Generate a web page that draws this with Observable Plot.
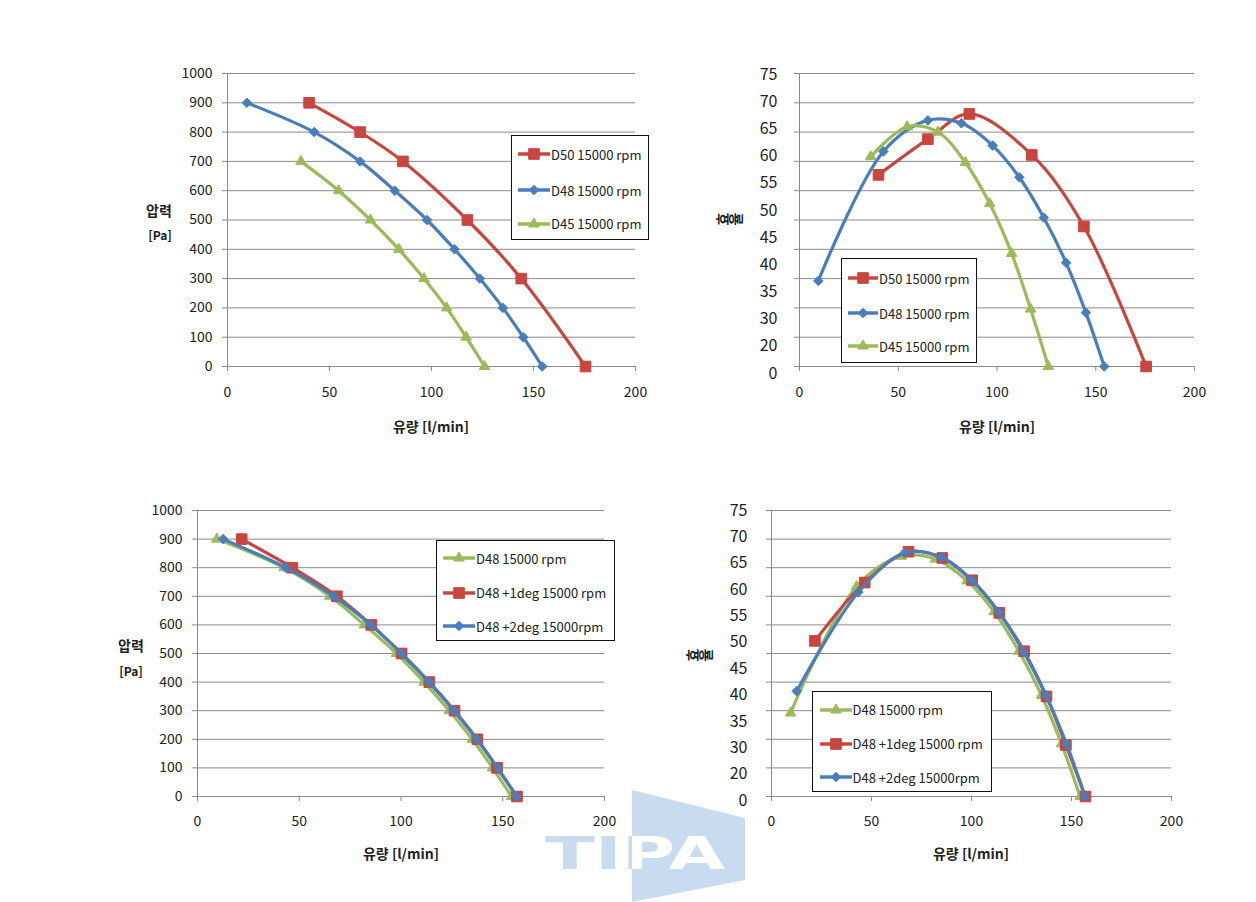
<!DOCTYPE html>
<html><head><meta charset="utf-8">
<script src="https://cdn.jsdelivr.net/npm/d3@7"></script>
<script src="https://cdn.jsdelivr.net/npm/@observablehq/plot@0.6"></script>
<style>
body{margin:0;background:#fff;}
#root{position:relative;width:1256px;height:902px;overflow:hidden;font-family:"Noto Sans CJK KR","Noto Sans",sans-serif;color:#222;}
.abs{position:absolute;left:0;top:0;}
.legend{position:absolute;border:1.5px solid #111;background:#fff;box-sizing:border-box;}
.item{position:absolute;display:flex;align-items:center;font-size:13px;white-space:nowrap;line-height:1;transform:translateY(-50%);}
.item svg{display:block;margin-right:1px;}
.title{position:absolute;font-weight:bold;white-space:nowrap;transform:translate(-50%,-50%);line-height:1;}
.vtitle{position:absolute;font-weight:bold;font-size:14px;line-height:1;white-space:nowrap;transform:translate(-50%,-50%);display:flex;}
.vtitle span{display:inline-block;transform:rotate(-90deg);}
</style>
</head><body><div id="root"></div>
<script>
// ---------- data ----------
const xTicks = [0, 50, 100, 150, 200];
const pressTicks = [0, 100, 200, 300, 400, 500, 600, 700, 800, 900, 1000];
const effGridTicks = [0, 30, 35, 40, 45, 50, 55, 60, 65, 70, 75];
const effLabelTicks = [0, 20, 30, 35, 40, 45, 50, 55, 60, 65, 70, 75];

const nameD50 = "D50 15000 rpm", nameD48 = "D48 15000 rpm", nameD45 = "D45 15000 rpm";
const nameP1 = "D48 +1deg 15000 rpm", nameP2 = "D48 +2deg 15000rpm";

const flowD50 = [40, 65, 86, 117.6, 144, 175.5];
const pressD50 = [900, 800, 700, 500, 300, 0];
const effD50 = [57.7, 63.8, 68.1, 61.1, 48.9, 0];

const flowD48 = [9.5, 42.5, 65, 82, 97.8, 111.3, 123.7, 135, 145, 154.3];
const pressD48 = [900, 800, 700, 600, 500, 400, 300, 200, 100, 0];
const effD48 = [39.6, 61.7, 67.0, 66.5, 62.7, 57.3, 50.4, 42.7, 34.2, 0];

const flowD45 = [36, 54.5, 70.1, 84, 96.3, 107.4, 117, 126];
const pressD45 = [700, 600, 500, 400, 300, 200, 100, 0];
const effD45 = [60.8, 65.9, 65.0, 59.8, 52.8, 44.3, 34.8, 0];

const flowP1 = [21.7, 46.6, 68.5, 85.4, 100.3, 113.9, 126.3, 137.5, 147.2, 157.0];
const pressP1 = [900, 800, 700, 600, 500, 400, 300, 200, 100, 0];
const effP1 = [52.2, 62.4, 67.8, 66.7, 62.8, 57.1, 50.4, 42.5, 34.0, 0];

const flowP2 = [12.6, 43.4, 66.9, 85.1, 100.1, 113.7, 126.0, 137.2, 147.5, 156.7];
const pressP2 = [900, 800, 700, 600, 500, 400, 300, 200, 100, 0];
const effP2 = [43.4, 60.7, 67.6, 66.8, 62.8, 57.2, 50.3, 42.7, 34.2, 0];

// ---------- style ----------
const RED = "#C8463F", BLUE = "#4A7EBB", GREEN = "#9BBB59";
const GRID = "#8a8a8a", TEXT = "#222";
const FONT = '"Noto Sans CJK KR","Noto Sans",sans-serif';
const SYM = {
  square: {symbol: "square", r: 6.0},
  diamond: {symbol: "diamond2", r: 4.3},
  triangle: {symbol: "triangle", r: 3.9}
};
const rows = (xs, ys) => xs.map((x, i) => ({x, y: ys[i]}));
const root = document.getElementById("root");

function place(el, left, top) {
  const d = document.createElement("div");
  d.className = "abs";
  d.style.left = left + "px"; d.style.top = top + "px";
  d.appendChild(el); root.appendChild(d);
}

function chart(c) {
  const marks = [
    Plot.ruleY(c.yTicks, {stroke: GRID, strokeWidth: 1}),
    Plot.ruleX([0], {stroke: GRID, strokeWidth: 1}),
    Plot.axisX(xTicks, {tickSize: 5, tickPadding: c.xPad, stroke: GRID, fill: TEXT, label: null}),
    Plot.axisY(c.yTicks, {tickSize: 5, tickPadding: 10, stroke: GRID, fill: TEXT, label: null,
      tickFormat: c.yText ? (d) => String(d) : () => ""})
  ];
  for (const s of c.series) {
    const data = rows(s.x, s.y);
    marks.push(Plot.line(data, {x: "x", y: "y", stroke: s.color, strokeWidth: 3.2, curve: "catmull-rom"}));
    marks.push(Plot.dot(data, {x: "x", y: "y", symbol: SYM[s.shape].symbol, r: SYM[s.shape].r, fill: s.color, stroke: s.color, strokeWidth: 1}));
  }
  const p = Plot.plot({
    width: c.w, height: c.h,
    marginLeft: c.mL, marginRight: c.mR, marginTop: c.mT, marginBottom: c.mB,
    x: {type: "linear", domain: [0, 200]},
    y: {type: "linear", domain: c.yDomain},
    marks,
    style: {background: "transparent", fontFamily: FONT, fontSize: c.fs + "px", color: TEXT, overflow: "visible"}
  });
  place(p, c.left, c.top);
  if (c.labels) {
    const o = Plot.plot({
      width: c.w, height: c.h,
      marginLeft: c.mL, marginRight: c.mR, marginTop: c.labels.mT, marginBottom: c.labels.mB,
      y: {type: "linear", domain: c.labels.ticks},
      marks: [Plot.axisY(c.labels.ticks, {tickSize: 0, tickPadding: c.labels.pad, fill: TEXT, label: null})],
      style: {background: "transparent", fontFamily: FONT, fontSize: c.labels.fs + "px", color: TEXT, overflow: "visible"}
    });
    place(o, c.left, c.top);
  }
}

function legend(L) {
  const box = document.createElement("div");
  box.className = "legend";
  Object.assign(box.style, {left: L.left + "px", top: L.top + "px", width: L.w + "px", height: L.h + "px"});
  L.series.forEach((s, i) => {
    const it = document.createElement("div");
    it.className = "item";
    it.style.left = L.sx + "px"; it.style.top = L.rows[i] + "px";
    const sw = d3.create("svg").attr("width", L.sw).attr("height", 16);
    sw.append("line").attr("x1", 0).attr("x2", L.sw).attr("y1", 8).attr("y2", 8).attr("stroke", s.color).attr("stroke-width", 3.5);
    const sym = {square: d3.symbolSquare, diamond: d3.symbolDiamond2, triangle: d3.symbolTriangle}[s.shape];
    const r = SYM[s.shape].r;
    sw.append("path").attr("d", d3.symbol(sym, Math.PI * r * r)()).attr("transform", `translate(${L.sw / 2},8)`).attr("fill", s.color).attr("stroke", s.color);
    it.appendChild(sw.node());
    const t = document.createElement("span");
    t.textContent = s.name;
    it.appendChild(t);
    box.appendChild(it);
  });
  root.appendChild(box);
}

function title(text, x, y, fs) {
  const d = document.createElement("div");
  d.className = "title"; d.textContent = text;
  Object.assign(d.style, {left: x + "px", top: y + "px", fontSize: fs + "px"});
  root.appendChild(d);
}
function vtitle(text, x, y) {
  const d = document.createElement("div");
  d.className = "vtitle";
  for (const ch of text) {
    const s = document.createElement("span");
    s.textContent = ch;
    d.appendChild(s);
  }
  Object.assign(d.style, {left: x + "px", top: y + "px"});
  root.appendChild(d);
}

// ---------- watermark ----------
(function () {
  const svg = d3.create("svg").attr("width", 1256).attr("height", 902).style("position", "absolute").style("left", 0).style("top", 0);
  const pts = "632,790 745,818 745,880 632,902";
  svg.append("defs").append("clipPath").attr("id", "wm").append("polygon").attr("points", pts);
  svg.append("polygon").attr("points", pts).attr("fill", "#c9dcef");
  const txt = (g, fill) => g.append("text").attr("x", 545).attr("y", 869).attr("font-family", "DejaVu Sans").attr("font-weight", "bold")
    .attr("font-size", 44).attr("textLength", 180).attr("lengthAdjust", "spacingAndGlyphs").attr("fill", fill).text("TIPA");
  txt(svg, "#c9dcef");
  txt(svg.append("g").attr("clip-path", "url(#wm)"), "#ffffff");
  root.appendChild(svg.node());
})();

// ---------- series sets ----------
const topPress = [
  {name: nameD50, color: RED, shape: "square", x: flowD50, y: pressD50},
  {name: nameD48, color: BLUE, shape: "diamond", x: flowD48, y: pressD48},
  {name: nameD45, color: GREEN, shape: "triangle", x: flowD45, y: pressD45}
];
const topEff = [
  {name: nameD50, color: RED, shape: "square", x: flowD50, y: effD50},
  {name: nameD48, color: BLUE, shape: "diamond", x: flowD48, y: effD48},
  {name: nameD45, color: GREEN, shape: "triangle", x: flowD45, y: effD45}
];
const botPress = [
  {name: nameD48, color: GREEN, shape: "triangle", x: flowD48, y: pressD48},
  {name: nameP1, color: RED, shape: "square", x: flowP1, y: pressP1},
  {name: nameP2, color: BLUE, shape: "diamond", x: flowP2, y: pressP2}
];
const botEff = [
  {name: nameD48, color: GREEN, shape: "triangle", x: flowD48, y: effD48},
  {name: nameP1, color: RED, shape: "square", x: flowP1, y: effP1},
  {name: nameP2, color: BLUE, shape: "diamond", x: flowP2, y: effP2}
];

// top-left: pressure
chart({left: 130, top: 50, w: 530, h: 400, mL: 97, mR: 25, mT: 23, mB: 84, xPad: 16, fs: 14,
  yDomain: [0, 1000], yTicks: pressTicks, yText: true, series: topPress});
// top-right: efficiency
chart({left: 690, top: 50, w: 530, h: 400, mL: 109, mR: 26, mT: 23, mB: 84, xPad: 16, fs: 14,
  yDomain: effGridTicks, yTicks: effGridTicks, yText: false, series: topEff,
  labels: {ticks: effLabelTicks, mT: 24, mB: 77, pad: 22, fs: 16}});
// bottom-left: pressure
chart({left: 100, top: 487, w: 530, h: 400, mL: 97, mR: 26, mT: 23, mB: 91, xPad: 15, fs: 14,
  yDomain: [0, 1000], yTicks: pressTicks, yText: true, series: botPress});
// bottom-right: efficiency
chart({left: 660, top: 487, w: 530, h: 400, mL: 111, mR: 19, mT: 23, mB: 91, xPad: 15, fs: 14,
  yDomain: effGridTicks, yTicks: effGridTicks, yText: false, series: botEff,
  labels: {ticks: effLabelTicks, mT: 23, mB: 87, pad: 24, fs: 16}});

// axis titles
title("유량 [l/min]", 431, 426, 14);
title("압력", 159, 210, 14);
title("[Pa]", 160, 235, 12);
title("유량 [l/min]", 997, 426, 14);
vtitle("효율", 728, 219);
title("유량 [l/min]", 401, 853, 14);
title("압력", 131, 645, 14);
title("[Pa]", 131, 671, 12);
title("유량 [l/min]", 971, 853, 14);
vtitle("효율", 698, 655);

// legends
legend({left: 511, top: 135, w: 138, h: 105, rows: [18.3, 54, 87.7], sx: 6, sw: 32, series: topPress});
legend({left: 841, top: 258, w: 136, h: 105, rows: [19, 54, 87.3], sx: 6, sw: 30, series: topEff});
legend({left: 436, top: 540, w: 179, h: 101, rows: [17.3, 51.7, 85], sx: 6, sw: 32, series: botPress});
legend({left: 812, top: 691, w: 180, h: 101, rows: [17.6, 51.6, 85], sx: 6.5, sw: 32, series: botEff});
</script></body></html>
